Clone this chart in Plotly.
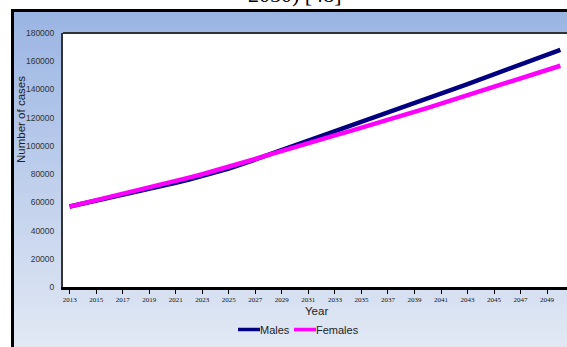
import plotly.graph_objects as go

# Projected number of cases per year, by sex
years = list(range(2013, 2051))
males = [57000, 59000, 61000, 63000, 65100, 67200, 69400, 71600, 73800, 76100,
         78600, 81300, 84000, 87000, 90300, 93700, 97000, 100200, 103400, 106700,
         110000, 113300, 116600, 120000, 123400, 126800, 130200, 133600, 137000,
         140400, 143800, 147200, 150600, 154000, 157500, 161000, 164500, 168000]
females = [57000, 59200, 61400, 63700, 66000, 68300, 70600, 72900, 75200, 77500,
           79900, 82400, 84900, 87800, 90700, 93600, 96500, 99300, 102000, 104700,
           107400, 110100, 112800, 115600, 118400, 121200, 124000, 127000, 130000,
           133000, 136000, 139000, 142000, 144900, 147850, 150800, 153800, 156800]
year_ticks = list(range(2013, 2051, 2))
y_ticks = list(range(0, 180001, 20000))
series_names = ["Males", "Females"]
series_colors = ["#000080", "#FF00FF"]

W, H = 567, 347
L, R, T, B = 63, 567, 33, 287  # plot area in pixels
SANS = "Liberation Sans, Arial, sans-serif"


def px(x):
    return (x - L) / (R - L)


def py(y):
    return (B - y) / (B - T)


def lerp(c0, c1, t):
    return "rgb(%d,%d,%d)" % tuple(round(a + (b - a) * t) for a, b in zip(c0, c1))


shapes = []
# vertical gradient background of the chart frame
top_c, bot_c = (155, 181, 227), (225, 232, 244)
n = 48
y0, y1 = 11, H
for i in range(n):
    ya = y0 + (y1 - y0) * i / n
    yb = y0 + (y1 - y0) * (i + 1) / n + 0.5
    t = i / (n - 1)
    shapes.append(dict(type="rect", xref="paper", yref="paper", layer="below",
                       x0=px(12), x1=px(W + 2), y0=py(ya), y1=py(yb),
                       fillcolor=lerp(top_c, bot_c, t), line=dict(width=0)))
# white plotting area
shapes.append(dict(type="rect", xref="paper", yref="paper", layer="below",
                   x0=0, x1=1, y0=0, y1=1, fillcolor="white", line=dict(width=0)))
# frame border
shapes.append(dict(type="line", xref="paper", yref="paper", x0=px(12.5), x1=px(12.5),
                   y0=py(9), y1=py(H + 2), line=dict(color="black", width=3)))
shapes.append(dict(type="line", xref="paper", yref="paper", x0=px(11), x1=px(W + 2),
                   y0=py(10.5), y1=py(10.5), line=dict(color="black", width=3)))
# plot top border
shapes.append(dict(type="line", xref="paper", yref="paper", x0=0, x1=1,
                   y0=1, y1=1, line=dict(color="#333333", width=2)))

fig = go.Figure()
for name, vals, col in zip(series_names, [males, females], series_colors):
    fig.add_trace(go.Scatter(x=years, y=vals, mode="lines", name=name,
                             showlegend=False, line=dict(color=col, width=4.5)))

annotations = [
    dict(text="2050) [48]", xref="paper", yref="paper", x=px(294), y=py(9),
         xanchor="center", yanchor="bottom", showarrow=False,
         font=dict(family="Liberation Serif", size=22, color="black")),
    dict(text="Number of cases", xref="paper", yref="paper", x=px(21), y=py(120),
         xanchor="center", yanchor="middle", textangle=-90, showarrow=False,
         font=dict(family=SANS, size=11.5, color="#222222")),
    dict(text="Year", xref="paper", yref="paper", x=px(316), y=py(311),
         xanchor="center", yanchor="middle", showarrow=False,
         font=dict(family=SANS, size=11.5, color="#222222")),
]

# legend: short line sample followed by its label
legend_x = [238, 294]
for name, col, lx in zip(series_names, series_colors, legend_x):
    shapes.append(dict(type="line", xref="paper", yref="paper",
                       x0=px(lx), x1=px(lx + 22), y0=py(329.5), y1=py(329.5),
                       line=dict(color=col, width=3.5)))
    annotations.append(dict(text=name, xref="paper", yref="paper", x=px(lx + 22),
                            y=py(329.5), xanchor="left", yanchor="middle",
                            showarrow=False, borderpad=0, xshift=-1,
                            font=dict(family=SANS, size=11, color="#222222")))

fig.update_layout(
    width=W, height=H,
    margin=dict(l=L, r=W - R, t=T, b=H - B),
    paper_bgcolor="white", plot_bgcolor="rgba(0,0,0,0)",
    shapes=shapes, annotations=annotations,
    showlegend=False,
    xaxis=dict(range=[2012.5, 2050.5], tickmode="array", tickvals=year_ticks,
               ticktext=[str(v) for v in year_ticks], showgrid=False, zeroline=False,
               showline=True, linecolor="black", linewidth=3,
               ticks="outside", ticklen=4, tickcolor="black", tickwidth=1,
               tickfont=dict(family="Liberation Serif", size=7, color="#111111")),
    yaxis=dict(range=[0, 180000], tickmode="array", tickvals=y_ticks,
               ticktext=[str(v) for v in y_ticks], showgrid=False, zeroline=False,
               showline=True, linecolor="#333333", linewidth=2, ticks="",
               ticklabelstandoff=5,
               tickfont=dict(family=SANS, size=8.5, color="#333333")),
)

fig.write_html("out.html")
